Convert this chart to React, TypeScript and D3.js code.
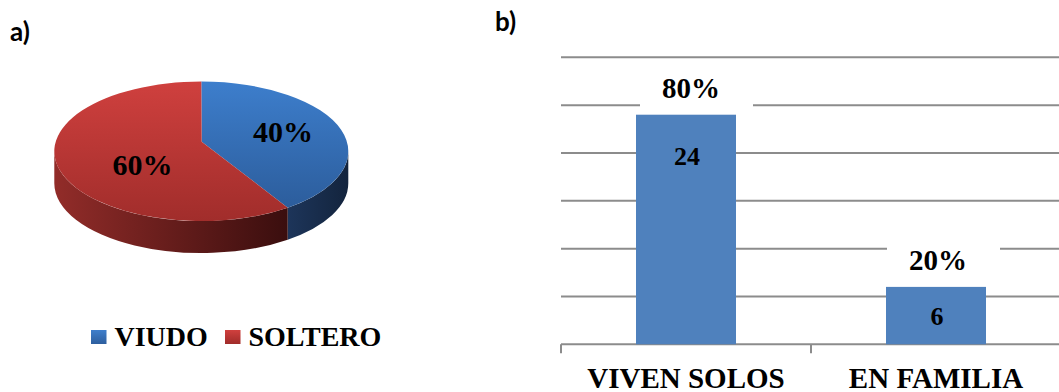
import React from "react";
import * as d3 from "d3";

// ---- data ----
const pieLabels = ["VIUDO", "SOLTERO"];
const pieValues = [40, 60];
const pieTopColors = [
  ["#3d7ecc", "#2c5d9c"],
  ["#cf403e", "#a12d2b"],
];
const pieSideColors = [
  ["#1d355a", "#13243d"],
  ["#922c29", "#3a0e0e"],
];
const legendColors = [
  ["#3f7fcc", "#2d5e9e"],
  ["#d0403e", "#a02c2a"],
];

const barCategories = ["VIVEN SOLOS", "EN FAMILIA"];
const barValues = [24, 6];
const barPercents = ["80%", "20%"];
const yTicks = [0, 5, 10, 15, 20, 25, 30];

const SERIF = "'Liberation Serif', 'Times New Roman', serif";
const SANS = "Lato, 'Open Sans', sans-serif";

function Pie() {
  const cx = 201.3, cy = 151.3, rx = 147, ry = 69.7, depth = 32;
  const apex = { x: 201.7, y: 141.7 };
  const P = (t: number, dy = 0) => [cx + rx * Math.sin(t), cy - ry * Math.cos(t) + dy];
  const arcs = d3.pie<number>().sort(null)(pieValues);
  const total = d3.sum(pieValues);

  const sides: JSX.Element[] = [];
  const tops: JSX.Element[] = [];
  arcs.forEach((a, i) => {
    const a0 = a.startAngle, a1 = a.endAngle;
    const s0 = Math.max(a0, Math.PI / 2), s1 = Math.min(a1, (3 * Math.PI) / 2);
    if (s1 > s0) {
      const [x0, y0] = P(s0), [x1, y1] = P(s1);
      const [x1d, y1d] = P(s1, depth), [x0d, y0d] = P(s0, depth);
      const large = s1 - s0 > Math.PI ? 1 : 0;
      const d = `M${x0},${y0} A${rx},${ry} 0 ${large} 1 ${x1},${y1} L${x1d},${y1d} A${rx},${ry} 0 ${large} 0 ${x0d},${y0d} Z`;
      sides.push(<path key={"s" + i} d={d} fill={`url(#side${i})`} />);
    }
    const [x0, y0] = P(a0), [x1, y1] = P(a1);
    const large = a1 - a0 > Math.PI ? 1 : 0;
    const d = `M${apex.x},${apex.y} L${x0},${y0} A${rx},${ry} 0 ${large} 1 ${x1},${y1} Z`;
    tops.push(<path key={"t" + i} d={d} fill={`url(#top${i})`} />);
  });

  const labelPos = [
    { x: 283, y: 141.7 },
    { x: 142.5, y: 175 },
  ];

  return (
    <g>
      <defs>
        {pieTopColors.map((c, i) => (
          <linearGradient key={i} id={`top${i}`} x1="0" y1="0" x2="0" y2="1">
            <stop offset="0%" stopColor={c[0]} />
            <stop offset="100%" stopColor={c[1]} />
          </linearGradient>
        ))}
        {pieSideColors.map((c, i) => (
          <linearGradient key={i} id={`side${i}`} x1="0" y1="0" x2="1" y2="0">
            <stop offset="0%" stopColor={c[0]} />
            <stop offset="100%" stopColor={c[1]} />
          </linearGradient>
        ))}
        {legendColors.map((c, i) => (
          <linearGradient key={i} id={`leg${i}`} x1="0" y1="0" x2="0" y2="1">
            <stop offset="0%" stopColor={c[0]} />
            <stop offset="100%" stopColor={c[1]} />
          </linearGradient>
        ))}
      </defs>
      {sides}
      {tops}
      {arcs.map((a, i) => (
        <text
          key={"l" + i}
          x={labelPos[i].x}
          y={labelPos[i].y}
          textAnchor="middle"
          fontFamily={SERIF}
          fontWeight="bold"
          fontSize={30}
          fill="#000"
        >
          {`${Math.round((a.value / total) * 100)}%`}
        </text>
      ))}
      {pieLabels.map((lab, i) => {
        const lx = [91, 225][i];
        return (
          <g key={lab}>
            <rect x={lx} y={330} width={15.5} height={14} fill={`url(#leg${i})`} />
            <text x={lx + 23.5} y={345.7} fontFamily={SERIF} fontWeight="bold" fontSize={28} fill="#000">
              {lab}
            </text>
          </g>
        );
      })}
    </g>
  );
}

function Bars() {
  const x = d3.scaleBand<string>().domain(barCategories).range([561, 1061]).paddingInner(0.6).paddingOuter(0.3);
  const y = d3.scaleLinear().domain([0, 30]).range([344.3, 57.3]);
  const step = x.step();
  const base = y(0);
  const boundaries = d3.range(barCategories.length + 1).map((i) => 561 + i * step);
  return (
    <g>
      {yTicks.filter((t) => t > 0).map((t) => (
        <line key={t} x1={561} x2={1061} y1={y(t)} y2={y(t)} stroke="#8c8c8c" strokeWidth={2} />
      ))}
      <line x1={561} x2={1061} y1={base} y2={base} stroke="#8c8c8c" strokeWidth={2} />
      {boundaries.map((bx, i) => (
        <line key={i} x1={bx} x2={bx} y1={base} y2={base + 9} stroke="#8c8c8c" strokeWidth={2} />
      ))}
      {barCategories.map((c, i) => {
        const bx = x(c)!;
        const bw = x.bandwidth();
        const top = y(barValues[i]);
        const cxm = bx + bw / 2;
        const pctX = cxm + (i === 0 ? 5 : 2);
        const innerY = Math.min(top + 41, (top + base) / 2);
        return (
          <g key={c}>
            <rect x={bx} y={top} width={bw} height={base - top} fill="#4f81bd" />
            <rect x={pctX - 51} y={top - 45} width={113} height={40} fill="#fff" />
            <text x={pctX} y={top - 17} textAnchor="middle" fontFamily={SERIF} fontWeight="bold" fontSize={29} fill="#000">
              {barPercents[i]}
            </text>
            <text x={cxm + 1} y={innerY + 9} textAnchor="middle" fontFamily={SERIF} fontWeight="bold" fontSize={26} fill="#000">
              {barValues[i]}
            </text>
            <text x={cxm} y={387.5} textAnchor="middle" fontFamily={SERIF} fontWeight="bold" fontSize={29} fill="#000">
              {c}
            </text>
          </g>
        );
      })}
    </g>
  );
}

export default function App() {
  return (
    <div style={{ position: "absolute", left: 0, top: 0 }}>
      <svg width={1059} height={392} style={{ display: "block", background: "#fff" }}>
        <rect width={1059} height={392} fill="#fff" />
        <text x={10} y={41} fontFamily={SANS} fontWeight="bold" fontSize={26} fill="#000">a)</text>
        <text x={495} y={31} fontFamily={SANS} fontWeight="bold" fontSize={26} fill="#000">b)</text>
        <Pie />
        <Bars />
      </svg>
    </div>
  );
}
